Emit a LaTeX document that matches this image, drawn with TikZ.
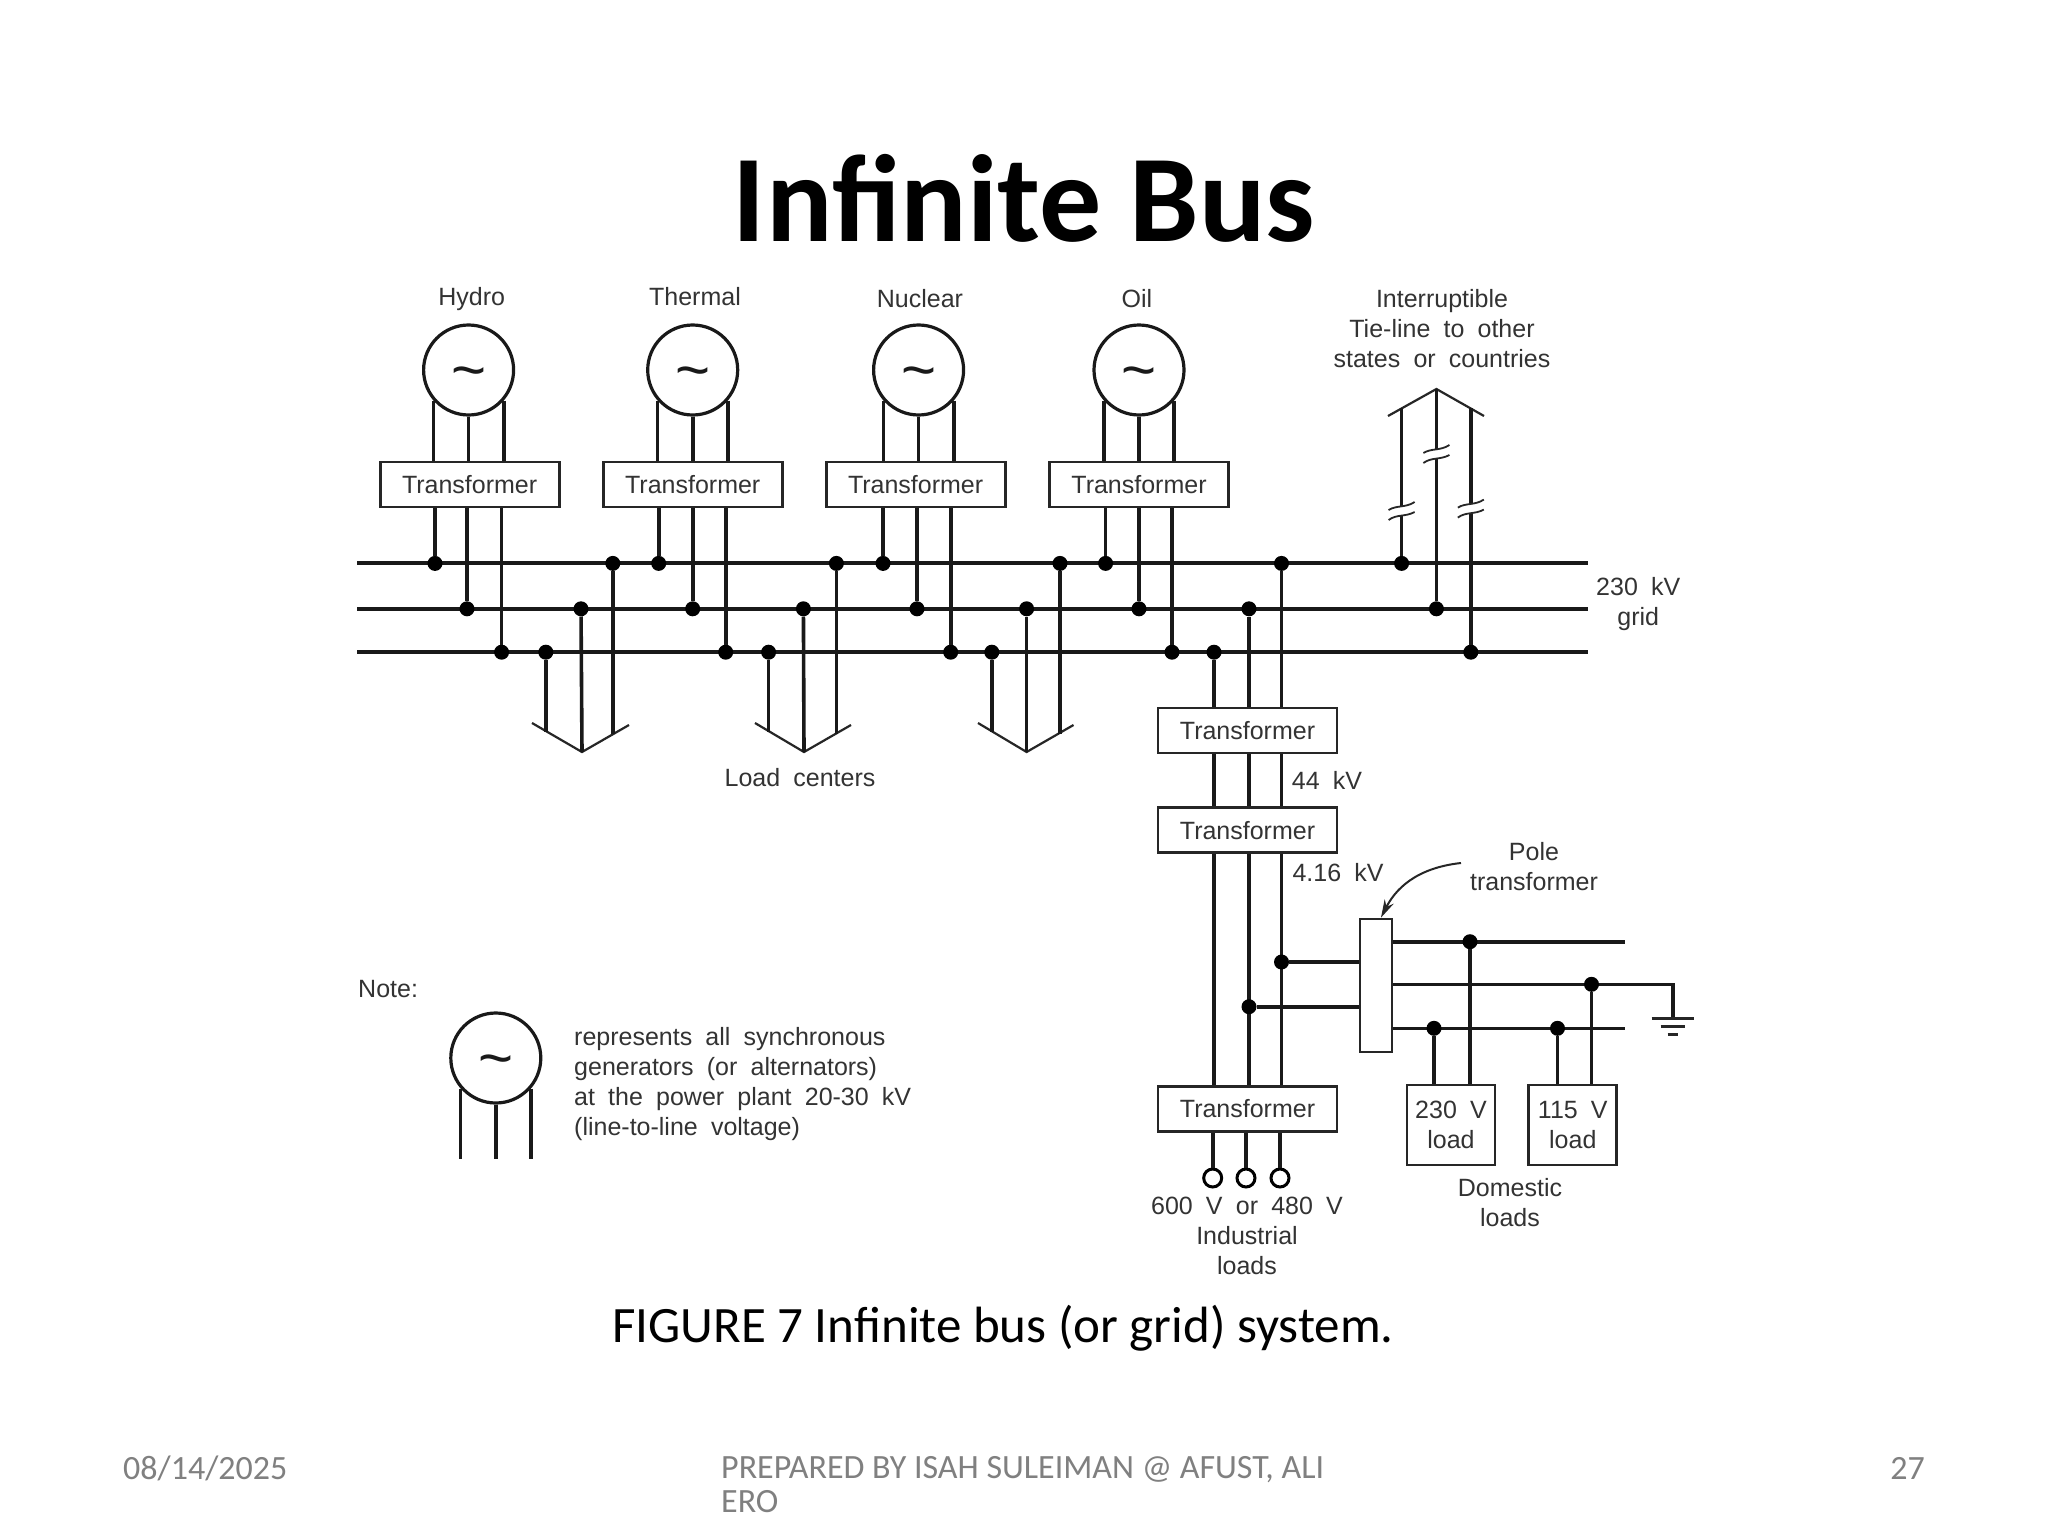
\documentclass[tikz,border=0pt]{standalone}
\usepackage{fontspec}
\setmainfont{Carlito}
\newfontfamily\figfont[WordSpace=1.9]{Liberation Sans}
\usetikzlibrary{positioning,calc,arrows.meta}
\newcommand{\acsign}{\raisebox{-20pt}[0pt][0pt]{\textasciitilde}}

\begin{document}
\begin{tikzpicture}[
			x=1pt, y=-1pt,
			wire/.style={line width=3.6pt, black!90},
			thinwire/.style={line width=2.2pt, black!85},
			lbl/.style={inner sep=0pt, align=center, text=black!80, font=\figfont\fontsize{25}{30}\selectfont},
			gen/.style={circle, draw=black!90, line width=3.2pt, fill=white, minimum size=90pt, inner sep=0pt, text=black!90, font=\figfont\fontsize{60}{60}\selectfont},
			xfmr/.style={rectangle, draw=black!85, line width=2.8pt, fill=white, minimum width=179pt, minimum height=45pt, inner sep=0pt, text=black!80, font=\figfont\fontsize{25}{30}\selectfont},
			loadbox/.style={rectangle, draw=black!85, line width=2.8pt, fill=white, minimum width=88pt, minimum height=80pt, inner sep=0pt, align=center, text=black!80, font=\figfont\fontsize{25}{30}\selectfont},
			junct/.style={circle, fill=black, inner sep=0pt, minimum size=15pt},
			term/.style={circle, draw=black, line width=3pt, fill=white, inner sep=0pt, minimum size=18pt},
			footer/.style={inner sep=0pt, text=black!50!white, font=\fontsize{34}{34}\selectfont},
			breakmark/.pic={
				\fill [white] (-5,-5) rectangle (5,5);
				\draw [line width=1.8pt, black!85] (-13,-1) .. controls (-5,-6) and (4,-3) .. (13,-9);
				\draw [line width=1.8pt, black!85] (-13,9) .. controls (-5,3) and (4,6) .. (13,1);
			}
	]
	\useasboundingbox (0,0) rectangle (2048,1536);
	\fill [white] (0,0) rectangle (2048,1536);

	\node (title) [inner sep=0pt, font=\bfseries\fontsize{124}{124}\selectfont] at (1024,198) {Infinite Bus};
	\node (caption) [inner sep=0pt, font=\fontsize{51}{51}\selectfont] at (1003,1328) {FIGURE 7 Infinite bus (or grid) system.};
	\node (date) [footer, anchor=west] at (123,1468) {08/14/2025};
	\node (prepared) [footer, anchor=west, align=left] at (721,1485) {PREPARED BY ISAH SULEIMAN @ AFUST, ALI\\ERO};
	\node (page) [footer, anchor=east] at (1925,1468) {27};

	% generators and their labels
	\node (hydro) [gen] at (468.6,370) {\acsign};
	\node (thermal) [gen] at (692.7,370) {\acsign};
	\node (nuclear) [gen] at (918.6,370) {\acsign};
	\node (oil) [gen] at (1139,370) {\acsign};
	\node (hydrolbl) [lbl] at (471.7,299) {Hydro};
	\node (thermallbl) [lbl] at (695,297) {Thermal};
	\node (nuclearlbl) [lbl] at (920,299) {Nuclear};
	\node (oillbl) [lbl] at (1137,299) {Oil};

	\node (t1) [xfmr, below=44pt of hydro, xshift=1pt] {Transformer};
	\node (t2) [xfmr, below=44pt of thermal] {Transformer};
	\node (t3) [xfmr, below=44pt of nuclear, xshift=-3pt] {Transformer};
	\node (t4) [xfmr, below=44pt of oil] {Transformer};

	% grid
	\coordinate (a0) at (357,563.4);
	\coordinate (a1) at (1588,563.4);
	\coordinate (b0) at (357,608.8);
	\coordinate (b1) at (1588,608.8);
	\coordinate (c0) at (357,652.2);
	\coordinate (c1) at (1588,652.2);
	\draw [wire, line width=3.9pt] (a0) -- (a1);
	\draw [wire] (b0) -- (b1);
	\draw [wire] (c0) -- (c1);
	\node (grid) [lbl, right=8pt of b1, yshift=5pt] {230 kV\\grid};

	\node (h1) [junct] at (435,563.4) {};
	\node (h2) [junct] at (467,608.8) {};
	\node (h3) [junct] at (501.6,652.2) {};
	\node (th1) [junct] at (658.7,563.4) {};
	\node (th2) [junct] at (692.7,608.8) {};
	\node (th3) [junct] at (725.7,652.2) {};
	\node (n1) [junct] at (883,563.4) {};
	\node (n2) [junct] at (917,608.8) {};
	\node (n3) [junct] at (950.7,652.2) {};
	\node (o1) [junct] at (1105.6,563.4) {};
	\node (o2) [junct] at (1139,608.8) {};
	\node (o3) [junct] at (1172,652.2) {};

	\draw [wire] (hydro.-139) -- (hydro.-139 |- t1.north);
	\draw [wire] (hydro.south) -- (hydro.south |- t1.north);
	\draw [wire] (hydro.-41) -- (hydro.-41 |- t1.north);
	\draw [wire] (thermal.-139) -- (thermal.-139 |- t2.north);
	\draw [wire] (thermal.south) -- (thermal.south |- t2.north);
	\draw [wire] (thermal.-41) -- (thermal.-41 |- t2.north);
	\draw [wire] (nuclear.-139) -- (nuclear.-139 |- t3.north);
	\draw [wire] (nuclear.south) -- (nuclear.south |- t3.north);
	\draw [wire] (nuclear.-41) -- (nuclear.-41 |- t3.north);
	\draw [wire] (oil.-139) -- (oil.-139 |- t4.north);
	\draw [wire] (oil.south) -- (oil.south |- t4.north);
	\draw [wire] (oil.-41) -- (oil.-41 |- t4.north);

	\draw [wire] (h1 |- t1.south) -- (h1);
	\draw [wire] (h2 |- t1.south) -- (h2);
	\draw [wire] (h3 |- t1.south) -- (h3);
	\draw [wire] (th1 |- t2.south) -- (th1);
	\draw [wire] (th2 |- t2.south) -- (th2);
	\draw [wire] (th3 |- t2.south) -- (th3);
	\draw [wire] (n1 |- t3.south) -- (n1);
	\draw [wire] (n2 |- t3.south) -- (n2);
	\draw [wire] (n3 |- t3.south) -- (n3);
	\draw [wire] (o1 |- t4.south) -- (o1);
	\draw [wire] (o2 |- t4.south) -- (o2);
	\draw [wire] (o3 |- t4.south) -- (o3);

	% load centers
	\node (lc1c) [junct] at (545.8,652.2) {};
	\node (lc1b) [junct] at (581,608.8) {};
	\node (lc1a) [junct] at (612.8,563.4) {};
	\node (lc2c) [junct] at (768.6,652.2) {};
	\node (lc2b) [junct] at (803.4,608.8) {};
	\node (lc2a) [junct] at (836.4,563.4) {};
	\node (lc3c) [junct] at (991.8,652.2) {};
	\node (lc3b) [junct] at (1026.6,608.8) {};
	\node (lc3a) [junct] at (1060,563.4) {};
	\coordinate (tip1) at (582,752);
	\coordinate (tip2) at (804,752);
	\coordinate (tip3) at (1026.6,752);
	\draw [thinwire] (532,723) -- (tip1) -- (629,725);
	\draw [thinwire] (755,723) -- (tip2) -- (851,725);
	\draw [thinwire] (978,723) -- (tip3) -- (1073.5,725);
	\draw [wire] (lc1c) -- (545.8,732);
	\draw [wire] (lc1b) -- (tip1);
	\draw [wire] (lc1a) -- (612.8,734);
	\draw [wire] (lc2c) -- (768.6,732);
	\draw [wire] (lc2b) -- (tip2);
	\draw [wire] (lc2a) -- (836.4,734);
	\draw [wire] (lc3c) -- (991.8,732);
	\draw [wire] (lc3b) -- (tip3);
	\draw [wire] (lc3a) -- (1060,734);
	\node (loadcenters) [lbl] at (800,778) {Load centers};

	% tie-line
	\node (tie1) [junct] at (1401.6,563.4) {};
	\node (tie2) [junct] at (1436.4,608.8) {};
	\node (tie3) [junct] at (1470.8,652.2) {};
	\coordinate (tietip) at (1436.4,389);
	\draw [thinwire] (1388,416) -- (tietip) -- (1484,416);
	\draw [wire] (tie1) -- (1401.6,408);
	\draw [wire] (tie2) -- (tietip);
	\draw [wire] (tie3) -- (1470.8,408);
	\pic at (1401.6,511) {breakmark};
	\pic at (1436.4,454) {breakmark};
	\pic at (1470.8,508.6) {breakmark};
	\node (tielbl) [lbl] at (1442,329) {Interruptible\\Tie-line to other\\states or countries};

	% step-down side
	\node (t5) [xfmr] at (1247.5,730.5) {Transformer};
	\node (t6) [xfmr, below=52pt of t5] {Transformer};
	\node (t7) [xfmr] at (1247.5,1109) {Transformer};
	\node (sc) [junct] at (1214,652.2) {};
	\node (sb) [junct] at (1249,608.8) {};
	\node (sa) [junct] at (1281.5,563.4) {};
	\draw [wire] (sc) -- (sc |- t5.north);
	\draw [wire] (sb) -- (sb |- t5.north);
	\draw [wire] (sa) -- (sa |- t5.north);
	\draw [wire] (sc |- t5.south) -- (sc |- t6.north);
	\draw [wire] (sb |- t5.south) -- (sb |- t6.north);
	\draw [wire] (sa |- t5.south) -- (sa |- t6.north);
	\draw [wire] (sc |- t6.south) -- (sc |- t7.north);
	\draw [wire] (sb |- t6.south) -- (sb |- t7.north);
	\draw [wire] (sa |- t6.south) -- (sa |- t7.north);
	\node (v44) [lbl] at (1327,780) {44 kV};
	\node (v416) [lbl] at (1338,873) {4.16 kV};

	\node (term1) [term] at (1212.7,1178) {};
	\node (term2) [term] at (1246,1178) {};
	\node (term3) [term] at (1280,1178) {};
	\draw [wire] (term1 |- t7.south) -- (term1);
	\draw [wire] (term2 |- t7.south) -- (term2);
	\draw [wire] (term3 |- t7.south) -- (term3);
	\node (indlbl) [lbl] at (1247,1236) {600 V or 480 V\\Industrial\\loads};

	% pole transformer
	\node (pole) [rectangle, draw=black!85, line width=2.8pt, fill=white, minimum width=32pt, minimum height=133pt, inner sep=0pt] at (1376,985.5) {};
	\node (pa) [junct] at (1281.5,962) {};
	\node (pb) [junct] at (1249,1006.7) {};
	\draw [wire] (pa) -- (pa -| pole.west);
	\draw [wire] (pb) -- (pb -| pole.west);
	\coordinate (poleout1) at (1625,941.7);
	\coordinate (poleout2) at (1625,984.3);
	\coordinate (poleout3) at (1625,1028.3);
	\coordinate (gnd) at (1672.7,1018);
	\draw [wire] (poleout1 -| pole.east) -- (poleout1);
	\draw [wire] (poleout2 -| pole.east) -| (gnd);
	\draw [wire] (poleout3 -| pole.east) -- (poleout3);
	\draw [thinwire, line width=3pt] ($(gnd)+(-21,0)$) -- ($(gnd)+(21,0)$);
	\draw [thinwire, line width=3pt] ($(gnd)+(-12,8)$) -- ($(gnd)+(12,8)$);
	\draw [thinwire, line width=3pt] ($(gnd)+(-5,16)$) -- ($(gnd)+(5,16)$);

	\node (polelbl) [lbl] at (1534,867) {Pole\\transformer};
	\coordinate (polefrom) at (1461,863);
	\draw [-{Stealth[length=18pt,width=10pt]}, line width=2pt, black!85] (polefrom) .. controls (1415,868) and (1395,890) .. ($(pole.north)+(5,0)$);

	% domestic loads
	\node (load230) [loadbox] at (1451,1125) {230 V\\load};
	\node (load115) [loadbox, right=31pt of load230] {115 V\\load};
	\node (d1) [junct] at (1470,941.7) {};
	\node (d2) [junct] at (1591.5,984.3) {};
	\node (d3) [junct] at (1434,1028.3) {};
	\node (d4) [junct] at (1557.5,1028.3) {};
	\draw [wire] (d1) -- (d1 |- load230.north);
	\draw [wire] (d3) -- (d3 |- load230.north);
	\draw [wire] (d2) -- (d2 |- load115.north);
	\draw [wire] (d4) -- (d4 |- load115.north);
	\node (domlbl) [lbl] at (1510,1203) {Domestic\\loads};

	% note
	\node (notelbl) [lbl, anchor=west] at (358,989) {Note:};
	\node (notegen) [gen] at (495.8,1058) {\acsign};
	\draw [wire] (notegen.-139) -- (notegen.-139 |- 0,1159);
	\draw [wire] (notegen.south) -- (notegen.south |- 0,1159);
	\draw [wire] (notegen.-41) -- (notegen.-41 |- 0,1159);
	\node (notetxt) [lbl, anchor=west, align=left] at (574,1084) {represents all synchronous\\generators (or alternators)\\at the power plant 20-30 kV\\(line-to-line voltage)};
\end{tikzpicture}
\end{document}
